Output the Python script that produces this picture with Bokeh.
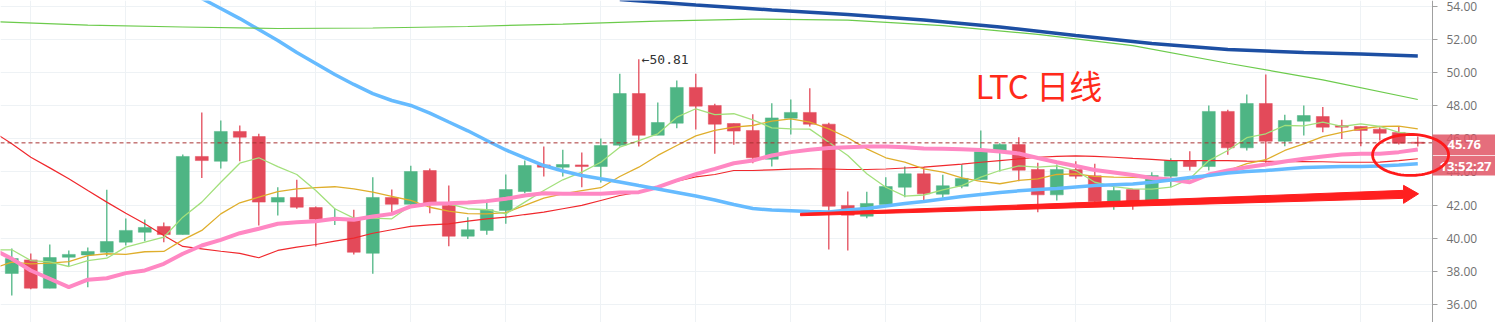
import numpy as np
from bokeh.plotting import figure
from bokeh.models import (ColumnDataSource, FixedTicker, NumeralTickFormatter, Label,
                          PolyAnnotation, Range1d, BoxAnnotation)
from bokeh.core.properties import value
from bokeh.embed import file_html
from bokeh.resources import INLINE

# ---------------- data ----------------
opens = [37.87, 38.69, 36.98, 38.85, 38.99, 39.15, 39.76, 40.36, 40.71, 40.22,
         44.94, 44.65, 46.45, 46.14, 42.18, 42.46, 41.85, 41.10, 41.15, 39.09,
         42.46, 42.05, 44.09, 41.98, 40.12, 40.47, 41.67, 42.82, 44.43, 44.29,
         44.43, 44.33, 45.62, 48.74, 46.22, 46.95, 49.11, 48.02, 46.93, 46.51,
         44.77, 47.25, 47.60, 46.89, 41.98, 41.33, 42.04, 43.08, 43.89, 42.66,
         43.14, 43.55, 45.22, 45.66, 44.15, 42.62, 44.15, 43.77, 42.22, 42.94,
         42.28, 43.75, 44.69, 44.33, 47.66, 45.46, 48.14, 45.86, 47.07, 47.35,
         46.81, 46.75, 46.59, 46.39, 45.80]
highs = [39.38, 39.08, 39.62, 39.26, 39.44, 42.92, 41.19, 41.13, 40.95, 45.06,
         47.60, 47.11, 46.81, 46.31, 43.08, 43.53, 41.92, 41.79, 41.72, 43.69,
         42.94, 44.37, 44.21, 43.18, 41.27, 42.32, 43.85, 44.69, 45.54, 45.34,
         45.18, 46.02, 49.93, 50.81, 48.20, 49.53, 49.93, 48.12, 46.93, 47.49,
         48.16, 48.38, 49.06, 46.97, 42.82, 42.80, 43.69, 44.33, 44.29, 43.83,
         44.45, 46.51, 45.74, 46.10, 44.56, 44.45, 44.65, 44.50, 43.14, 42.94,
         43.99, 44.83, 45.26, 48.02, 47.76, 48.68, 49.89, 47.46, 48.02, 47.92,
         47.15, 46.75, 46.71, 46.77, 46.14]
lows = [36.54, 36.92, 36.98, 38.29, 37.04, 38.91, 39.56, 39.82, 39.76, 40.22,
        43.63, 44.21, 44.65, 40.77, 41.37, 41.78, 39.50, 40.79, 39.02, 37.85,
        41.51, 41.98, 41.51, 39.52, 39.95, 40.21, 40.87, 42.72, 43.73, 43.73,
        43.08, 43.36, 45.54, 45.54, 46.22, 46.65, 46.57, 45.10, 45.64, 44.53,
        44.33, 46.27, 46.75, 39.32, 39.26, 41.21, 42.04, 42.48, 42.28, 42.44,
        43.02, 43.55, 44.03, 43.44, 41.57, 42.28, 43.59, 42.18, 41.72, 41.72,
        42.28, 43.08, 44.09, 44.09, 45.04, 45.30, 44.49, 45.56, 46.21, 46.40,
        46.00, 45.56, 45.90, 45.66, 45.54]
closes = [38.77, 36.98, 38.83, 39.02, 39.20, 39.80, 40.47, 40.65, 40.22, 44.94,
          44.69, 46.45, 46.10, 42.18, 42.46, 41.87, 41.15, 41.15, 39.15, 42.46,
          42.05, 44.03, 42.12, 40.12, 40.51, 41.72, 42.94, 44.39, 44.29, 44.45,
          44.33, 45.60, 48.74, 46.22, 46.99, 49.11, 47.98, 46.89, 46.47, 44.86,
          47.27, 47.60, 46.89, 41.93, 41.39, 42.10, 43.12, 43.89, 42.68, 43.17,
          43.61, 45.22, 45.66, 44.11, 42.62, 44.15, 43.75, 42.22, 42.88, 42.22,
          43.79, 44.69, 44.33, 47.66, 45.46, 48.14, 45.86, 47.11, 47.41, 46.71,
          46.71, 46.51, 46.34, 45.74, 45.76]

# moving averages, index -1 .. 74
ma5 = [39.30, 39.30, 38.65, 38.57, 38.29, 38.65, 38.79, 39.46, 39.76, 40.06, 41.27,
       42.18, 43.38, 44.53, 44.86, 44.33, 43.85, 42.88, 41.78, 41.21, 41.21,
       41.17, 41.98, 42.08, 42.08, 41.78, 41.72, 41.47, 42.18, 42.88, 43.53,
       43.99, 44.59, 45.50, 45.90, 46.31, 47.31, 47.82, 47.47, 47.52, 47.15,
       46.67, 46.61, 46.59, 45.80, 45.00, 43.89, 43.08, 42.54, 42.61, 42.92,
       43.18, 43.69, 44.09, 44.37, 44.29, 44.37, 44.09, 43.38, 43.12, 42.98,
       42.96, 43.08, 43.59, 44.69, 45.30, 46.07, 46.31, 46.81, 46.79, 47.01,
       46.75, 46.91, 46.75, 46.40, 46.27]
ma10 = [38.17, 38.55, 38.45, 38.49, 38.59, 38.95, 39.06, 39.02, 39.18, 39.20, 39.90,
        40.47, 41.47, 42.14, 42.48, 42.82, 42.98, 43.06, 43.11, 42.98, 42.78,
        42.52, 42.28, 41.87, 41.63, 41.49, 41.47, 41.55, 41.98, 42.42, 42.68,
        42.88, 43.05, 43.73, 44.29, 45.00, 45.60, 46.18, 46.51, 46.71, 46.81,
        47.07, 47.21, 47.01, 46.61, 46.07, 45.40, 44.86, 44.59, 44.19, 43.99,
        43.65, 43.43, 43.29, 43.49, 43.59, 43.85, 43.89, 43.73, 43.69, 43.67,
        43.64, 43.59, 43.59, 43.79, 44.09, 44.50, 44.74, 45.30, 45.70, 46.14,
        46.40, 46.61, 46.75, 46.77, 46.61]
ma20 = [46.45, 45.70, 44.89, 44.25, 43.59, 42.88, 42.18, 41.51, 40.87, 40.16, 39.50,
        39.36, 39.21, 39.08, 38.82, 39.26, 39.46, 39.62, 39.82, 40.00, 40.30,
        40.51, 40.71, 40.81, 40.87, 41.03, 41.17, 41.27, 41.43, 41.57, 41.78,
        41.98, 42.28, 42.58, 42.78, 43.08, 43.44, 43.71, 43.85, 44.09, 44.09,
        44.13, 44.17, 44.19, 44.18, 44.15, 44.15, 44.18, 44.24, 44.30, 44.39,
        44.48, 44.59, 44.69, 44.79, 44.89, 44.94, 44.98, 44.94, 44.89, 44.82,
        44.76, 44.69, 44.69, 44.69, 44.69, 44.66, 44.65, 44.63, 44.63, 44.62,
        44.59, 44.59, 44.60, 44.69, 44.80]
ma30 = [39.35, 38.76, 38.05, 37.55, 37.04, 37.49, 37.58, 37.89, 38.05, 38.45, 39.06,
        39.56, 39.90, 40.30, 40.57, 40.87, 40.97, 41.03, 41.17, 41.11, 41.31,
        41.47, 41.92, 42.08, 42.11, 42.16, 42.24, 42.38, 42.58, 42.72, 42.68,
        42.68, 42.68, 42.76, 42.78, 43.08, 43.49, 43.87, 44.19, 44.53, 44.69,
        45.00, 45.20, 45.34, 45.45, 45.50, 45.54, 45.54, 45.50, 45.42, 45.40,
        45.37, 45.33, 45.24, 45.12, 44.85, 44.59, 44.36, 44.12, 43.97, 43.82,
        43.64, 43.55, 43.38, 43.85, 44.09, 44.29, 44.45, 44.63, 44.80, 44.94,
        45.06, 45.10, 45.10, 45.20, 45.36]
# index 9 .. 74
ma60 = [55.09, 54.48, 53.88, 53.27, 52.61, 51.95, 51.22, 50.56, 49.89, 49.29,
        48.74, 48.32, 48.02, 47.56, 47.02, 46.49, 45.90, 45.33, 44.85, 44.39,
        44.06, 43.79, 43.59, 43.40, 43.18, 42.97, 42.76, 42.55, 42.31, 42.04,
        41.79, 41.70, 41.66, 41.61, 41.58, 41.70, 41.79, 41.95, 42.10, 42.22,
        42.37, 42.52, 42.64, 42.76, 42.86, 42.94, 43.00, 43.09, 43.18, 43.23,
        43.27, 43.38, 43.52, 43.67, 43.79, 43.94, 44.03, 44.09, 44.18, 44.27,
        44.30, 44.33, 44.33, 44.36, 44.42, 44.50]
ma120_x = [-1, 4, 9, 14, 19, 24, 29, 34, 39, 44, 49, 54, 59, 64, 69, 74]
ma120 = [53.09, 52.88, 52.76, 52.67, 52.70, 52.79, 52.94, 53.12, 53.24, 53.18,
         52.85, 52.31, 51.64, 50.57, 49.57, 48.38]
ma240_x = [32, 36, 40, 44, 48, 52, 56, 60, 64, 68, 71, 74]
ma240 = [54.42, 54.09, 53.79, 53.52, 53.18, 52.76, 52.25, 51.76, 51.40, 51.22,
         51.13, 51.01]

y_ticks = [36, 38, 40, 42, 44, 46, 48, 50, 52, 54]
grid_x = [1, 6, 11, 16, 21, 26, 31, 36, 41, 46, 51, 56, 61, 66, 71]
last_price = 45.76
last_time = "13:52:27"
title_text = "LTC 日线"
high_text = "←50.81"
high_idx = 33
arrow_x = [41.51, 74.04]
arrow_y = [41.43, 42.68]
circle_c = (73.62, 45.03)

# ---------------- figure ----------------
PX = 19.0          # pixels per candle
PY = 16.55         # pixels per price unit
X0 = -0.5947
XA = 74.774                    # where the price axis sits
X1 = X0 + 1495 / PX            # right edge of the canvas
Y0, Y1 = 34.906, 54.3625
p = figure(width=1495, height=322, x_range=Range1d(X0, X1), y_range=Range1d(Y0, Y1),
           y_axis_location="right", output_backend="svg", toolbar_location=None,
           min_border_left=0, min_border_right=0, min_border_top=0, min_border_bottom=0)
p.outline_line_color = None
p.background_fill_color = "white"
p.border_fill_color = "white"

p.xaxis.visible = False
p.xgrid.ticker = FixedTicker(ticks=grid_x)
p.xgrid.grid_line_color = "#eef2f5"
p.ygrid.grid_line_color = "#eef2f5"

ax = p.yaxis[0]
ax.fixed_location = XA
ax.ticker = FixedTicker(ticks=y_ticks)
ax.formatter = NumeralTickFormatter(format="0.00")
ax.major_tick_out = 5
ax.major_tick_in = 0
ax.minor_tick_line_color = None
ax.axis_line_color = "#a0a0a0"
ax.major_tick_line_color = "#a0a0a0"
ax.major_label_standoff = 9
ax.major_label_text_color = "#707070"
ax.major_label_text_font = "Open Sans"
ax.major_label_text_font_size = "12px"

# white panel to the right of the axis (hides grid there)
p.add_layout(BoxAnnotation(left=XA, fill_color="white", fill_alpha=1, line_color=None,
                           level="underlay"))

idx = np.arange(len(opens))
o = np.array(opens); c = np.array(closes)
up = c >= o
top = np.maximum(o, c)
bot = np.minimum(o, c)
bot = np.where(top - bot < 0.07, top - 0.07, bot)
colors = np.where(up, "#4eb584", "#e34a5a")
src = ColumnDataSource(dict(x=idx, h=highs, l=lows, top=top, bot=bot, col=colors))

p.segment(x0="x", y0="h", x1="x", y1="l", source=src, line_color="col", line_width=1.3)
p.vbar(x="x", width=0.68, top="top", bottom="bot", source=src, fill_color="col",
       line_color="col", line_width=0.5)

xs_full = np.arange(-1, 75)
p.line(xs_full, ma20, line_color="#f0282d", line_width=1.2)
p.line(xs_full, ma10, line_color="#dfae2c", line_width=1.3)
p.line(xs_full, ma5, line_color="#a3e07c", line_width=1.3)
p.line(xs_full, ma30, line_color="#ff88c3", line_width=4)
p.line(np.arange(9, 75), ma60, line_color="#66bbff", line_width=3.5)
p.line(ma120_x, ma120, line_color="#6ccb4c", line_width=1.2)
p.line(ma240_x, ma240, line_color="#1d4fa3", line_width=3.5)

# last price dashed line
p.line([X0, XA], [last_price, last_price], line_color="#a83232", line_dash="4 3",
       line_width=1)

# texts
p.text(x=[50.72], y=[49.23], text=[title_text], text_font=value("Noto Sans CJK SC"),
       text_font_size="33px", text_color="#ff2a1a", text_baseline="middle", text_align="left")
p.text(x=[high_idx + 0.15], y=[highs[high_idx]], text=[high_text],
       text_font=value("DejaVu Sans Mono"), text_font_size="13px", text_color="#333333",
       text_baseline="middle", text_align="left")

# red hand-drawn arrow (tapered)
ax0, ax1 = arrow_x; ay0, ay1 = arrow_y
hb = ax1 - 15 / PX
slope = (ay1 - ay0) / (ax1 - ax0)
ayb = ay0 + slope * (hb - ax0)
poly_x = [ax0, hb, hb, ax1, hb, hb, ax0]
poly_y = [ay0 + 1.2 / PY, ayb + 4 / PY, ayb + 9 / PY, ay1, ayb - 9 / PY, ayb - 4 / PY,
          ay0 - 1.2 / PY]
p.patch(poly_x, poly_y, fill_color="#ff1f1f", line_color="#ff1f1f", line_width=1)

# price boxes over the axis
p.add_layout(BoxAnnotation(left=XA, right=X1, top=46.27, bottom=45.01,
                           fill_color="#e05565", fill_alpha=0.85, line_color=None))
p.add_layout(BoxAnnotation(left=XA, right=X1, top=44.97, bottom=43.79,
                           fill_color="#e05565", fill_alpha=0.85, line_color=None))
p.add_layout(Label(x=XA + 15 / PX, y=45.64, text="%.2f" % last_price, text_color="white",
                   text_font="Open Sans", text_font_size="13px", text_font_style="bold",
                   text_baseline="middle", text_align="left"))
p.add_layout(Label(x=XA + 7 / PX, y=44.38, text=last_time, text_color="white",
                   text_font="Open Sans", text_font_size="13px", text_font_style="bold",
                   text_baseline="middle", text_align="left"))

# red circle
t = np.linspace(0, 2 * np.pi, 80)
ex = circle_c[0] + (38 / PX) * np.cos(t)
ey = circle_c[1] + (20.5 / PY) * np.sin(t)
p.add_layout(PolyAnnotation(xs=list(ex), ys=list(ey), fill_alpha=0, line_color="#ff1a1a",
                            line_alpha=1, line_width=2.8))

open("out.html", "w").write(file_html(p, INLINE))
